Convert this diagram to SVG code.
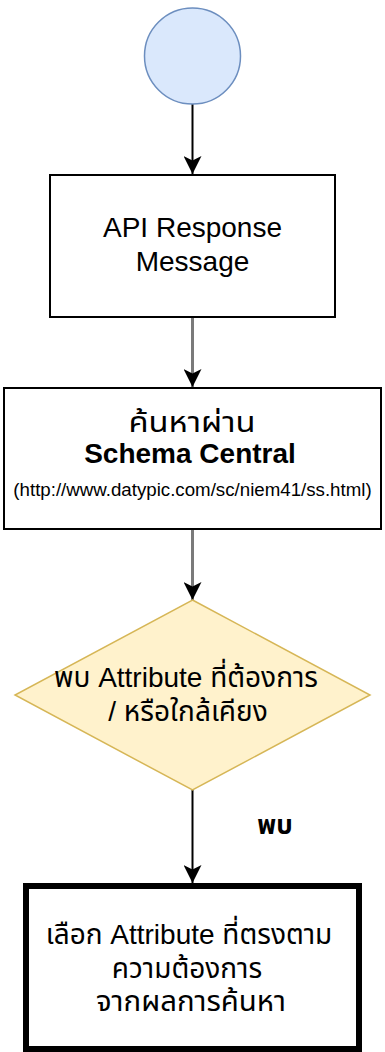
<svg xmlns="http://www.w3.org/2000/svg" width="385" height="1052" viewBox="0 0 385 1052">
<style>
text{font-family:"Liberation Sans","Noto Sans","Noto Sans Thai",sans-serif;fill:#000;text-anchor:middle}
.t{font-size:28px}
.b{font-weight:bold}
.box{fill:#fff;stroke:#000;stroke-width:2}
.edge{fill:none;stroke:#000;stroke-width:2}
.gray{stroke:#7a7a7a;stroke-width:3}
</style>
<defs>
<marker id="ah" viewBox="0 0 18 18" refX="18" refY="9" markerWidth="18" markerHeight="18" orient="auto" markerUnits="userSpaceOnUse">
<path d="M0,0 L18,9 L0,18 L4.5,9 Z" fill="#000"/>
</marker>
</defs>
<g id="connectors">
<line class="edge" x1="192.5" y1="104" x2="192.5" y2="174" marker-end="url(#ah)"/>
<line class="edge gray" x1="192.5" y1="318" x2="192.5" y2="387" marker-end="url(#ah)"/>
<line class="edge gray" x1="192.5" y1="530" x2="192.5" y2="600" marker-end="url(#ah)"/>
<line class="edge" x1="192.5" y1="790" x2="192.5" y2="883" marker-end="url(#ah)"/>
<text class="b" x="275" y="834" font-size="26">พบ</text>
</g>
<g id="start">
<circle cx="192.5" cy="56" r="48" fill="#dae8fc" stroke="#6c8ebf" stroke-width="1.5"/>
</g>
<g id="api-response">
<rect class="box" x="50" y="175" width="285" height="142"/>
<text class="t" x="192.5" y="237">API Response</text>
<text class="t" x="192.5" y="271">Message</text>
</g>
<g id="schema-central">
<rect class="box" x="4" y="388" width="377" height="141"/>
<text class="t" x="192" y="432" textLength="127" lengthAdjust="spacingAndGlyphs">ค้นหาผ่าน</text>
<text class="t b" x="190" y="463">Schema Central</text>
<text x="192.5" y="496" font-size="18.7">(http://www.datypic.com/sc/niem41/ss.html)</text>
</g>
<g id="decision">
<polygon points="192.5,600 370,695 192.5,790 15,695" fill="#fff2cc" stroke="#d6b656" stroke-width="1.5"/>
<text class="t" x="186" y="687">พบ Attribute ที่ต้องการ</text>
<text class="t" x="188" y="721">/ หรือใกล้เคียง</text>
</g>
<g id="select-attribute">
<rect x="26" y="886" width="333" height="163" fill="#fff" stroke="#000" stroke-width="6"/>
<text class="t" x="189" y="944">เลือก Attribute ที่ตรงตาม</text>
<text class="t" x="187" y="978">ความต้องการ</text>
<text class="t" x="191" y="1011" textLength="190" lengthAdjust="spacingAndGlyphs">จากผลการค้นหา</text>
</g>
</svg>
